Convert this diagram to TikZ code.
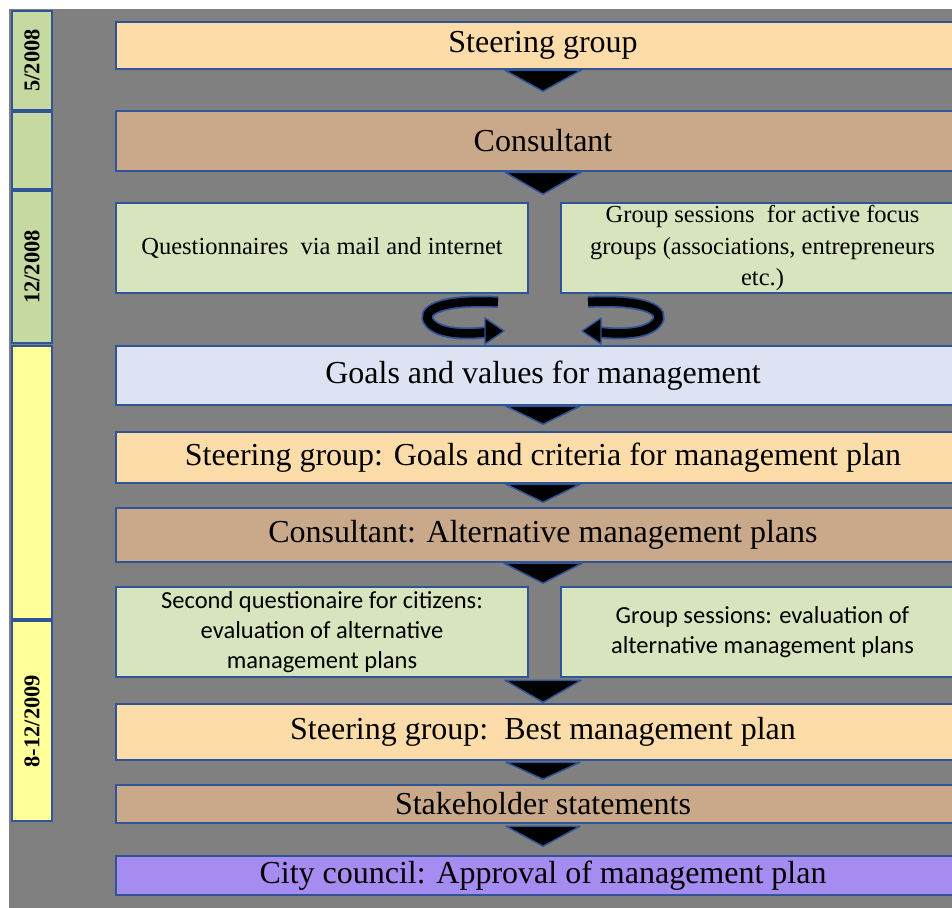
\documentclass[tikz,border=0pt]{standalone}
\usepackage{fontspec}
\setmainfont{Liberation Serif}
\newfontfamily\calib{Carlito}
\usetikzlibrary{calc}
\definecolor{bg}{HTML}{808080}
\definecolor{bd}{HTML}{2F5597}
\definecolor{peach}{HTML}{FCDDA9}
\definecolor{tanc}{HTML}{C9A98A}
\definecolor{lgreen}{HTML}{D8E4BE}
\definecolor{tgreen}{HTML}{C6D9A0}
\definecolor{lblue}{HTML}{DDE3F2}
\definecolor{tyellow}{HTML}{FFFF99}
\definecolor{purp}{HTML}{A68CF0}
\begin{document}
\begin{tikzpicture}[x=1pt,y=-1pt,
  box/.style={draw=bd,line width=2.5pt,rectangle,inner sep=0pt,align=center,
    font=\fontsize{32}{38}\selectfont},
  wide/.style={box,minimum width=854pt},
  half/.style={box,fill=lgreen,minimum height=90pt},
  serifsmall/.style={font=\fontsize{24.5}{31.5}\selectfont},
  sanssmall/.style={font=\calib\fontsize{24.5}{30}\selectfont},
  tlbox/.style={draw=bd,line width=2.5pt,rectangle,inner sep=0pt,rotate=90,
    minimum height=40pt,font=\bfseries\fontsize{22.5}{26}\selectfont},
  tri/.style={fill=black,draw=bd,line width=1.5pt,line join=round},
  loopout/.style={draw=bd,line width=12pt},
  loopin/.style={draw=black,line width=8.5pt},
  loophead/.style={fill=black,draw=bd,line width=1.4pt,line join=round}]
\useasboundingbox (0,0) rectangle (952,907);
\clip (0,0) rectangle (952,907);
\fill[bg] (9,9) rectangle (960,915);

% timeline
\node[tlbox,fill=tgreen,minimum width=99pt] (t1) at (32,60.5) {5/2008};
\node[tlbox,fill=tgreen,minimum width=77pt] (t2) at (32,150.5) {};
\node[tlbox,fill=tgreen,minimum width=152pt] (t3) at (32,267) {12/2008};
\node[tlbox,fill=tyellow,minimum width=273pt] (t4) at (32,482.5) {};
\node[tlbox,fill=tyellow,minimum width=200pt] (t5) at (32,721) {8-12/2009};

% main boxes
\node[wide,fill=peach,minimum height=47pt] (sg1) at (543,45.5) {Steering group};
\node[wide,fill=tanc,minimum height=60pt] (con1) at (543,141) {Consultant};
\node[half,serifsmall,minimum width=412pt] (q) at (322,248) {Questionnaires\ \ via mail and internet};
\node[half,serifsmall,minimum width=403pt] (gs1) at (762.5,248)
  {Group sessions\ \ for active focus\\ groups (associations, entrepreneurs\\ etc.)};
\node[wide,fill=lblue,minimum height=59pt] (goals) at (543,375.5) {Goals and values for management};
\node[wide,fill=peach,minimum height=51pt] (sg2) at (543,457.5) {Steering group: Goals and criteria for management plan};
\node[wide,fill=tanc,minimum height=54pt] (con2) at (543,535) {Consultant: Alternative management plans};
\node[half,sanssmall,minimum width=412pt] (sq) at (322,632)
  {Second questionaire for citizens:\\ evaluation of alternative\\ management plans};
\node[half,sanssmall,minimum width=403pt] (gs2) at (762.5,632)
  {Group sessions: evaluation of\\ alternative management plans};
\node[wide,fill=peach,minimum height=56pt] (sg3) at (543,732) {Steering group:\ \ Best management plan};
\node[wide,fill=tanc,minimum height=38pt] (stake) at (543,804) {Stakeholder statements};
\node[wide,fill=purp,minimum height=39pt] (city) at (543,875.5) {City council: Approval of management plan};

% down triangles
\coordinate (mid) at (543,0);
\draw[tri] (sg1.south -| mid) ++(-38,0) -- ++(76,0) -- ++(-38,21) -- cycle;
\draw[tri] (con1.south -| mid) ++(-38,0) -- ++(76,0) -- ++(-38,22) -- cycle;
\draw[tri] (goals.south -| mid) ++(-37,0) -- ++(74,0) -- ++(-37,18) -- cycle;
\draw[tri] (sg2.south -| mid) ++(-37,0) -- ++(74,0) -- ++(-37,18) -- cycle;
\draw[tri] (con2.south -| mid) ++(-39,0) -- ++(78,0) -- ++(-39,20) -- cycle;
\draw[tri] (sq.south -| mid) ++(-38,2) -- ++(76,0) -- ++(-38,22) -- cycle;
\draw[tri] (sg3.south -| mid) ++(-37,1) -- ++(74,0) -- ++(-37,17) -- cycle;
\draw[tri] (stake.south -| mid) ++(-37,2) -- ++(74,0) -- ++(-37,20) -- cycle;

% curved arrows
\coordinate (la) at (498,302);
\coordinate (lb) at (488,332);
\coordinate (ra) at (588,302);
\coordinate (rb) at (598,332);
\draw[loopout] (la) .. controls (440,299) and (419,311) .. (430,323) .. controls (439,334) and (466,335) .. (lb);
\draw[loopin] (la) .. controls (440,299) and (419,311) .. (430,323) .. controls (439,334) and (466,335) .. (lb);
\draw[loophead] (504,331) -- (485,318) -- (485,344) -- cycle;
\draw[loopout] (ra) .. controls (646,299) and (667,311) .. (656,323) .. controls (647,334) and (620,335) .. (rb);
\draw[loopin] (ra) .. controls (646,299) and (667,311) .. (656,323) .. controls (647,334) and (620,335) .. (rb);
\draw[loophead] (582,331) -- (601,318) -- (601,344) -- cycle;
\end{tikzpicture}
\end{document}
